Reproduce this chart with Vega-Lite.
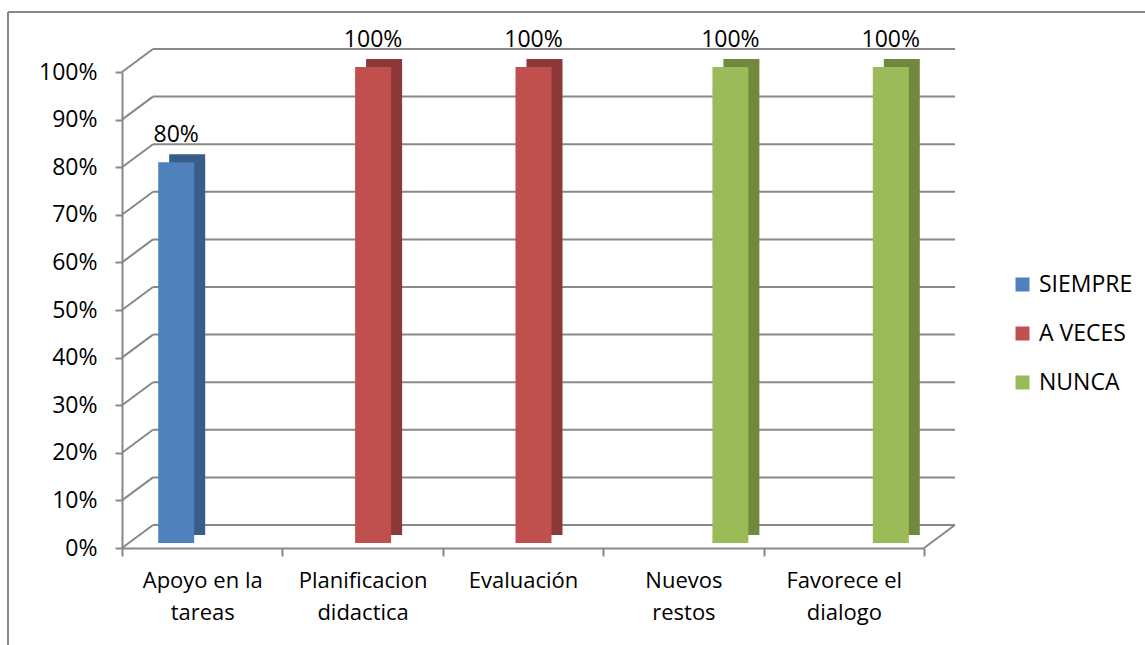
{
  "$schema": "https://vega.github.io/schema/vega-lite/v6.json",
  "width": 802,
  "height": 476,
  "autosize": {"type": "none"},
  "padding": {"left": 122, "top": 72, "right": 221, "bottom": 97},
  "background": "white",
  "config": {
    "view": {"stroke": null},
    "font": "Open Sans",
    "text": {"font": "Open Sans"}
  },
  "datasets": {
    "bars": [
      {"Categoria": "Apoyo en la tareas", "Serie": "SIEMPRE", "Valor": 0.8},
      {"Categoria": "Planificacion didactica", "Serie": "A VECES", "Valor": 1.0},
      {"Categoria": "Evaluación", "Serie": "A VECES", "Valor": 1.0},
      {"Categoria": "Nuevos restos", "Serie": "NUNCA", "Valor": 1.0},
      {"Categoria": "Favorece el dialogo", "Serie": "NUNCA", "Valor": 1.0}
    ],
    "grid": [
      {"v": 0}, {"v": 0.1}, {"v": 0.2}, {"v": 0.3}, {"v": 0.4}, {"v": 0.5},
      {"v": 0.6}, {"v": 0.7}, {"v": 0.8}, {"v": 0.9}, {"v": 1.0}
    ]
  },
  "data": {"name": "bars"},
  "layer": [
    {
      "data": {"name": "grid"},
      "mark": {"type": "rule", "color": "#888888", "strokeWidth": 2, "xOffset": -49.2, "x2Offset": 111.2, "yOffset": -23},
      "encoding": {
        "x": {"datum": "Apoyo en la tareas", "type": "nominal", "scale": {"type": "band", "domain": ["Apoyo en la tareas", "Planificacion didactica", "Evaluación", "Nuevos restos", "Favorece el dialogo"], "paddingInner": 0, "paddingOuter": 0},
          "axis": {
            "title": null, "labelAngle": 0, "labelFontSize": 22, "labelColor": "#000000", "labelFont": "Open Sans",
            "labelLineHeight": 32, "labelPadding": 14, "tickSize": 8, "tickWidth": 2, "tickColor": "#888888",
            "domainColor": "#888888", "domainWidth": 2, "tickBand": "extent", "labelBaseline": "top",
            "labelExpr": "indexof(datum.label, ' ') < 0 ? datum.label : [substring(datum.label, 0, lastindexof(datum.label, ' ')), substring(datum.label, lastindexof(datum.label, ' ') + 1)]"
          }},
        "x2": {"datum": "Favorece el dialogo"},
        "y": {"field": "v", "type": "quantitative", "scale": {"domain": [0, 1], "nice": false},
          "axis": {
            "title": null, "values": [0, 0.1, 0.2, 0.3, 0.4, 0.5, 0.6, 0.7, 0.8, 0.9, 1.0], "format": ".0%",
            "labelFontSize": 23, "labelColor": "#000000", "labelFont": "Open Sans", "labelPadding": 18,
            "tickSize": 7, "tickWidth": 2, "tickColor": "#888888", "domainColor": "#888888", "domainWidth": 2, "grid": false
          }}
      }
    },
    {
      "data": {"name": "grid"},
      "mark": {"type": "rule", "color": "#888888", "strokeWidth": 2, "xOffset": -80.2, "x2Offset": -49.2, "y2Offset": -23},
      "encoding": {
        "x": {"datum": "Apoyo en la tareas", "type": "nominal"},
        "x2": {"datum": "Apoyo en la tareas"},
        "y": {"field": "v", "type": "quantitative"},
        "y2": {"field": "v"}
      }
    },
    {
      "data": {"name": "grid"},
      "transform": [{"filter": "datum.v == 0"}],
      "mark": {"type": "rule", "color": "#888888", "strokeWidth": 2, "xOffset": 80.2, "x2Offset": 111.2, "y2Offset": -23},
      "encoding": {
        "x": {"datum": "Favorece el dialogo", "type": "nominal"},
        "x2": {"datum": "Favorece el dialogo"},
        "y": {"field": "v", "type": "quantitative"},
        "y2": {"field": "v"}
      }
    },
    {
      "transform": [{"filter": "datum.Serie == 'SIEMPRE'"}],
      "mark": {"type": "bar", "width": 36, "color": "#385D8A", "xOffset": -15, "yOffset": -13, "y2Offset": -13},
      "encoding": {
        "x": {"field": "Categoria", "type": "nominal"},
        "y": {"field": "Valor", "type": "quantitative"}
      }
    },
    {
      "transform": [{"filter": "datum.Serie == 'A VECES'"}],
      "mark": {"type": "bar", "width": 36, "color": "#8C3836", "xOffset": 21.5, "yOffset": -13, "y2Offset": -13},
      "encoding": {
        "x": {"field": "Categoria", "type": "nominal"},
        "y": {"field": "Valor", "type": "quantitative"}
      }
    },
    {
      "transform": [{"filter": "datum.Serie == 'NUNCA'"}],
      "mark": {"type": "bar", "width": 36, "color": "#71893F", "xOffset": 58, "yOffset": -13, "y2Offset": -13},
      "encoding": {
        "x": {"field": "Categoria", "type": "nominal"},
        "y": {"field": "Valor", "type": "quantitative"}
      }
    },
    {
      "transform": [{"filter": "datum.Serie == 'SIEMPRE'"}],
      "mark": {"type": "bar", "width": 36, "xOffset": -26, "yOffset": -5, "y2Offset": -5},
      "encoding": {
        "x": {"field": "Categoria", "type": "nominal"},
        "y": {"field": "Valor", "type": "quantitative"},
        "color": {"field": "Serie", "type": "nominal",
          "scale": {"domain": ["SIEMPRE", "A VECES", "NUNCA"], "range": ["#4F81BD", "#C0504D", "#9BBB59"]},
          "legend": {"title": null, "orient": "none", "legendX": 889, "legendY": 201, "symbolType": "square", "symbolSize": 196,
            "symbolStrokeWidth": 0, "labelFontSize": 23, "labelFont": "Open Sans", "labelColor": "#000000", "rowPadding": 25, "labelOffset": 5}}
      }
    },
    {
      "transform": [{"filter": "datum.Serie == 'A VECES'"}],
      "mark": {"type": "bar", "width": 36, "xOffset": 10.5, "yOffset": -5, "y2Offset": -5},
      "encoding": {
        "x": {"field": "Categoria", "type": "nominal"},
        "y": {"field": "Valor", "type": "quantitative"},
        "color": {"field": "Serie", "type": "nominal"}
      }
    },
    {
      "transform": [{"filter": "datum.Serie == 'NUNCA'"}],
      "mark": {"type": "bar", "width": 36, "xOffset": 47, "yOffset": -5, "y2Offset": -5},
      "encoding": {
        "x": {"field": "Categoria", "type": "nominal"},
        "y": {"field": "Valor", "type": "quantitative"},
        "color": {"field": "Serie", "type": "nominal"}
      }
    },
    {
      "transform": [{"filter": "datum.Serie == 'SIEMPRE'"}],
      "mark": {"type": "text", "fontSize": 23, "color": "#000000", "xOffset": -26, "yOffset": -25, "baseline": "alphabetic", "align": "center"},
      "encoding": {
        "x": {"field": "Categoria", "type": "nominal"},
        "y": {"field": "Valor", "type": "quantitative"},
        "text": {"field": "Valor", "type": "quantitative", "format": ".0%"}
      }
    },
    {
      "transform": [{"filter": "datum.Serie == 'A VECES'"}],
      "mark": {"type": "text", "fontSize": 23, "color": "#000000", "xOffset": 10.5, "yOffset": -25, "baseline": "alphabetic", "align": "center"},
      "encoding": {
        "x": {"field": "Categoria", "type": "nominal"},
        "y": {"field": "Valor", "type": "quantitative"},
        "text": {"field": "Valor", "type": "quantitative", "format": ".0%"}
      }
    },
    {
      "transform": [{"filter": "datum.Serie == 'NUNCA'"}],
      "mark": {"type": "text", "fontSize": 23, "color": "#000000", "xOffset": 47, "yOffset": -25, "baseline": "alphabetic", "align": "center"},
      "encoding": {
        "x": {"field": "Categoria", "type": "nominal"},
        "y": {"field": "Valor", "type": "quantitative"},
        "text": {"field": "Valor", "type": "quantitative", "format": ".0%"}
      }
    },
    {
      "data": {"name": "grid"},
      "transform": [{"filter": "datum.v == 1"}],
      "mark": {"type": "rule", "color": "#888888", "strokeWidth": 2, "xOffset": -194.2, "x2Offset": 302, "yOffset": -60},
      "encoding": {
        "x": {"datum": "Apoyo en la tareas", "type": "nominal"},
        "x2": {"datum": "Favorece el dialogo"},
        "y": {"field": "v", "type": "quantitative"}
      }
    },
    {
      "data": {"name": "grid"},
      "transform": [{"filter": "datum.v == 1"}],
      "mark": {"type": "rule", "color": "#888888", "strokeWidth": 2, "xOffset": -194.2, "x2Offset": -194.2, "yOffset": -60, "y2Offset": 100},
      "encoding": {
        "x": {"datum": "Apoyo en la tareas", "type": "nominal"},
        "x2": {"datum": "Apoyo en la tareas"},
        "y": {"field": "v", "type": "quantitative"},
        "y2": {"datum": 0}
      }
    }
  ]
}
